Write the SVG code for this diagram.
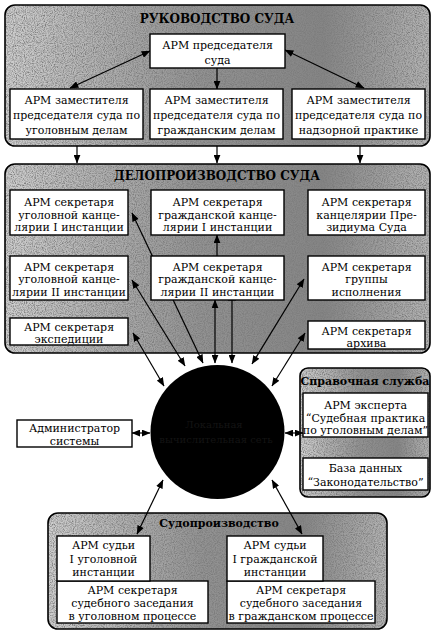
<svg xmlns="http://www.w3.org/2000/svg" width="435" height="637" viewBox="0 0 435 637">
<defs>
<linearGradient id="g1" x1="0" y1="0" x2="1" y2="0">
<stop offset="0" stop-color="#cfcfcf"/>
<stop offset="0.45" stop-color="#939393"/>
<stop offset="0.75" stop-color="#858585"/>
<stop offset="1" stop-color="#b5b5b5"/>
</linearGradient>
<filter id="tex" x="0" y="0" width="100%" height="100%">
<feTurbulence type="fractalNoise" baseFrequency="0.9" numOctaves="2" seed="4" result="n"/>
<feColorMatrix in="n" type="matrix" values="0 0 0 0 0.2  0 0 0 0 0.2  0 0 0 0 0.2  0 0 0 -2.4 1.5" result="dots"/>
<feComposite in="dots" in2="SourceGraphic" operator="in" result="d2"/>
<feMerge><feMergeNode in="SourceGraphic"/><feMergeNode in="d2"/></feMerge>
</filter>
<marker id="ah" viewBox="0 0 10 8" refX="9.5" refY="4" markerWidth="9" markerHeight="7" markerUnits="userSpaceOnUse" orient="auto-start-reverse">
<path d="M0,0 L10,4 L0,8 Z" fill="#000"/>
</marker>
<style>
.pbg{fill:url(#g1);filter:url(#tex);}
.pfr{fill:none;stroke:#000;stroke-width:1.6;}
.box{fill:#fff;stroke:#000;stroke-width:1.4;}
.t{font-family:"DejaVu Serif","Liberation Serif",serif;font-size:11px;fill:#000;text-anchor:middle;}
.h{font-family:"DejaVu Serif","Liberation Serif",serif;font-size:12px;font-weight:bold;fill:#000;text-anchor:middle;}
.hs{font-family:"DejaVu Serif","Liberation Serif",serif;font-size:11px;font-weight:bold;fill:#000;text-anchor:middle;}
.c{fill:none;stroke:#000;stroke-width:1.2;}
.cd{fill:none;stroke:#000;stroke-width:1.2;marker-start:url(#ah);marker-end:url(#ah);}
.ce{fill:none;stroke:#000;stroke-width:1.2;marker-end:url(#ah);}
.ct{font-family:"DejaVu Serif","Liberation Serif",serif;font-size:10px;fill:#141414;text-anchor:middle;}
</style>
</defs>
<rect width="435" height="637" fill="#fff"/>

<g id="panel-rukovodstvo">
<rect class="pbg" x="5" y="5" width="425" height="141" rx="10"/>
<rect class="pfr" x="5" y="5" width="425" height="141" rx="10"/>
<text class="h" x="217" y="23">РУКОВОДСТВО СУДА</text>
</g>
<g id="panel-deloproizvodstvo">
<rect class="pbg" x="5" y="164" width="425" height="189" rx="10"/>
<rect class="pfr" x="5" y="164" width="425" height="189" rx="10"/>
<text class="h" x="217" y="180">ДЕЛОПРОИЗВОДСТВО СУДА</text>
</g>
<g id="panel-spravka">
<rect class="pbg" x="300" y="368" width="130" height="129" rx="8"/>
<rect class="pfr" x="300" y="368" width="130" height="129" rx="8"/>
<text class="hs" x="365" y="385">Справочная служба</text>
</g>
<g id="panel-sudoproizvodstvo">
<rect class="pbg" x="48" y="513" width="339" height="116" rx="10"/>
<rect class="pfr" x="48" y="513" width="339" height="116" rx="10"/>
<text class="hs" x="219" y="527">Судопроизводство</text>
</g>

<g id="connectors">
<line class="cd" x1="150" y1="51" x2="70" y2="88"/>
<line class="ce" x1="217" y1="68" x2="217" y2="89"/>
<line class="cd" x1="285" y1="50" x2="364" y2="88"/>
<line class="ce" x1="77" y1="146" x2="77" y2="163"/>
<line class="ce" x1="217" y1="146" x2="217" y2="163"/>
<line class="ce" x1="360" y1="146" x2="360" y2="163"/>
<line class="ce" x1="217" y1="256" x2="217" y2="235"/>
<line class="cd" x1="132" y1="213" x2="203" y2="363"/>
<line class="cd" x1="132" y1="280" x2="185" y2="366"/>
<line class="cd" x1="133" y1="333" x2="164" y2="386"/>
<line class="cd" x1="215" y1="300" x2="215" y2="363"/>
<line class="ce" x1="232" y1="300" x2="232" y2="363"/>
<line class="c" x1="228" y1="300" x2="236" y2="300"/>
<line class="cd" x1="304" y1="279" x2="252" y2="364"/>
<line class="cd" x1="305" y1="333" x2="272" y2="386"/>
<line class="cd" x1="132" y1="433" x2="150" y2="433"/>
<line class="cd" x1="285" y1="433" x2="303" y2="433"/>
<line class="cd" x1="163" y1="480" x2="137" y2="534"/>
<line class="cd" x1="272" y1="480" x2="302" y2="534"/>
</g>

<g id="n-predsedatel">
<rect class="box" x="150" y="34" width="135" height="34"/>
<text class="t" x="217.5" y="49">АРМ председателя</text>
<text class="t" x="217.5" y="64">суда</text>
</g>
<g id="n-zam-ugol">
<rect class="box" x="10" y="89" width="133" height="50"/>
<text class="t" x="76.5" y="104">АРМ заместителя</text>
<text class="t" x="76.5" y="119">председателя суда по</text>
<text class="t" x="76.5" y="134">уголовным делам</text>
</g>
<g id="n-zam-grazh">
<rect class="box" x="150" y="89" width="133" height="50"/>
<text class="t" x="216.5" y="104">АРМ заместителя</text>
<text class="t" x="216.5" y="119">председателя суда по</text>
<text class="t" x="216.5" y="134">гражданским делам</text>
</g>
<g id="n-zam-nadzor">
<rect class="box" x="292" y="89" width="133" height="50"/>
<text class="t" x="358.5" y="104">АРМ заместителя</text>
<text class="t" x="358.5" y="119">председателя суда по</text>
<text class="t" x="358.5" y="134">надзорной практике</text>
</g>

<g id="n-ugol-1">
<rect class="box" x="10" y="190" width="118" height="45"/>
<text class="t" x="69" y="206">АРМ секретаря</text>
<text class="t" x="69" y="218.5">уголовной канце-</text>
<text class="t" x="69" y="231">лярии I инстанции</text>
</g>
<g id="n-grazh-1">
<rect class="box" x="151" y="190" width="133" height="45"/>
<text class="t" x="217.5" y="206">АРМ секретаря</text>
<text class="t" x="217.5" y="218.5">гражданской канце-</text>
<text class="t" x="217.5" y="231">лярии I инстанции</text>
</g>
<g id="n-prezidium">
<rect class="box" x="308" y="190" width="117" height="45"/>
<text class="t" x="366.5" y="206">АРМ секретаря</text>
<text class="t" x="366.5" y="218.5">канцелярии Пре-</text>
<text class="t" x="366.5" y="231">зидиума Суда</text>
</g>
<g id="n-ugol-2">
<rect class="box" x="10" y="256" width="118" height="44"/>
<text class="t" x="69" y="270.5">АРМ секретаря</text>
<text class="t" x="69" y="283">уголовной канце-</text>
<text class="t" x="69" y="295.5">лярии II инстанции</text>
</g>
<g id="n-grazh-2">
<rect class="box" x="151" y="256" width="133" height="44"/>
<text class="t" x="217.5" y="270.5">АРМ секретаря</text>
<text class="t" x="217.5" y="283">гражданской канце-</text>
<text class="t" x="217.5" y="295.5">лярии II инстанции</text>
</g>
<g id="n-ispolnenie">
<rect class="box" x="308" y="256" width="117" height="44"/>
<text class="t" x="366.5" y="270.5">АРМ секретаря</text>
<text class="t" x="366.5" y="283">группы</text>
<text class="t" x="366.5" y="295.5">исполнения</text>
</g>
<g id="n-ekspediciya">
<rect class="box" x="10" y="318" width="118" height="27"/>
<text class="t" x="69" y="330.5">АРМ секретаря</text>
<text class="t" x="69" y="343">экспедиции</text>
</g>
<g id="n-arhiv">
<rect class="box" x="308" y="321" width="117" height="28"/>
<text class="t" x="366.5" y="334.5">АРМ секретаря</text>
<text class="t" x="366.5" y="346.5">архива</text>
</g>

<g id="n-set">
<circle cx="217.5" cy="432" r="67" fill="#000"/>
<text class="ct" x="214" y="428">Локальная</text>
<text class="ct" x="216" y="443">вычислительная сеть</text>
</g>
<g id="n-admin">
<rect class="box" x="17" y="420" width="115" height="27"/>
<text class="t" x="74.5" y="431.5">Администратор</text>
<text class="t" x="74.5" y="444.5">системы</text>
</g>
<g id="n-ekspert">
<rect class="box" x="303" y="393" width="125" height="44"/>
<text class="t" x="365.5" y="409">АРМ эксперта</text>
<text class="t" x="365.5" y="421.5">“Судебная практика</text>
<text class="t" x="365.5" y="434">по уголовным делам”</text>
</g>
<g id="n-baza">
<rect class="box" x="303" y="458" width="125" height="32"/>
<text class="t" x="365.5" y="471.5">База данных</text>
<text class="t" x="365.5" y="486">“Законодательство”</text>
</g>

<g id="n-sekr-ugol">
<rect class="box" x="57" y="581" width="151" height="42"/>
<text class="t" x="132.5" y="593.5">АРМ секретаря</text>
<text class="t" x="132.5" y="606.5">судебного заседания</text>
<text class="t" x="132.5" y="619.5">в уголовном процессе</text>
</g>
<g id="n-sudya-ugol">
<rect class="box" x="57" y="536" width="93" height="45"/>
<text class="t" x="103.5" y="549">АРМ судьи</text>
<text class="t" x="103.5" y="562.5">I уголовной</text>
<text class="t" x="103.5" y="576">инстанции</text>
</g>
<g id="n-sekr-grazh">
<rect class="box" x="227" y="581" width="148" height="42"/>
<text class="t" x="301" y="593.5">АРМ секретаря</text>
<text class="t" x="301" y="606.5">судебного заседания</text>
<text class="t" x="301" y="619.5">в гражданском процессе</text>
</g>
<g id="n-sudya-grazh">
<rect class="box" x="227" y="536" width="96" height="45"/>
<text class="t" x="275" y="549">АРМ судьи</text>
<text class="t" x="275" y="562.5">I гражданской</text>
<text class="t" x="275" y="576">инстанции</text>
</g>
</svg>
